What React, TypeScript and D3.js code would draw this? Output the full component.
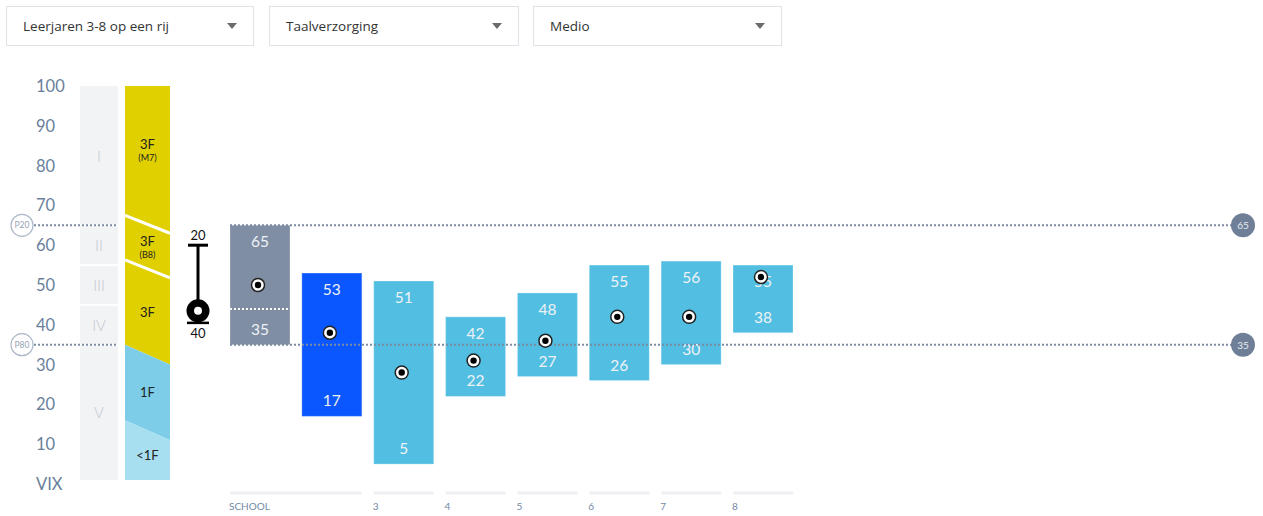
import React from "react";
import * as d3 from "d3";

const dropdownLabels = ["Leerjaren 3-8 op een rij", "Taalverzorging", "Medio"];
const yTicks = [100, 90, 80, 70, 60, 50, 40, 30, 20, 10];
const yBottomLabel = "VIX";
const levelNames = ["I", "II", "III", "IV", "V"];
const levelBounds = [100, 65, 55, 45, 35, 1];
const fLabels = ["3F", "3F", "3F", "1F", "<1F"];
const fSubLabels = ["(M7)", "(B8)", "", "", ""];
const fCutsLeft = [67.5, 56.3, 35, 16];
const fCutsRight = [63, 51.8, 30, 11];
const fColors = ["#e0d000", "#e0d000", "#e0d000", "#7dcde9", "#a7dff0"];
const barKeys = ["SCHOOL", "SCHOOL-leerjaar", "3", "4", "5", "6", "7", "8"];
const barHigh = [65, 53, 51, 42, 48, 55, 56, 55];
const barLow = [35, 17, 5, 22, 27, 26, 30, 38];
const barScore = [50, 38, 28, 31, 36, 42, 42, 52];
const barColors = ["#7f8ea3", "#0b57ff", "#52bfe2", "#52bfe2", "#52bfe2", "#52bfe2", "#52bfe2", "#52bfe2"];
const schoolMid = 44;
const groupLabels = ["SCHOOL", "3", "4", "5", "6", "7", "8"];
const groupFirst = ["SCHOOL", "3", "4", "5", "6", "7", "8"];
const groupLast = ["SCHOOL-leerjaar", "3", "4", "5", "6", "7", "8"];
const percentileNames = ["P20", "P80"];
const percentileValues = [65, 35];
const errLabels = ["20", "40"];
const errTop = 60;
const errMid = 43.5;

const FONT = "Lato, 'Open Sans', sans-serif";
const DFONT = "'Open Sans', Lato, sans-serif";

export default function App() {
  const W = 1263, H = 516;
  const y = d3.scaleLinear().domain([0, 100]).range([484, 86]);
  const x = d3.scaleBand<string>().domain(barKeys).range([230, 793]).paddingInner(0.165).paddingOuter(0);
  const bw = x.bandwidth();
  const lvlX0 = 80, lvlX1 = 118;
  const fX0 = 125, fX1 = 170;
  const fMid = (fX0 + fX1) / 2;
  const errX = 198;
  const dotColor = "#7b8ba3";

  const cutsL = [100, ...fCutsLeft, 1];
  const cutsR = [100, ...fCutsRight, 1];
  const line = d3.line<[number, number]>();

  const dropX = [6, 269, 533];
  const dropW = [247, 249, 248];

  return (
    <svg width={W} height={H} style={{ position: "absolute", left: 0, top: 0, fontFamily: FONT, fontWeight: 400 }}>
      <rect width={W} height={H} fill="#fff" />
      {dropdownLabels.map((t, i) => (
        <g key={t} transform={`translate(${dropX[i]},6)`}>
          <rect x={0.5} y={0.5} width={dropW[i]} height={39} fill="#fff" stroke="#dfe3e8" />
          <text x={17} y={20} dominantBaseline="central" fontSize={13.5} fill="#333" fontFamily={DFONT}>{t}</text>
          <path d={`M${dropW[i] - 26},${17} l10,0 l-5,6 z`} fill="#6b6b6b" />
        </g>
      ))}

      {yTicks.map((t) => (
        <text key={t} x={36} y={y(t)} dominantBaseline="central" fontSize={16.5} fill="#6a7f9b">{t}</text>
      ))}
      <text x={36} y={y(0)} dominantBaseline="central" fontSize={16.5} fill="#6a7f9b">{yBottomLabel}</text>

      {levelNames.map((n, i) => {
        const top = y(levelBounds[i]);
        const bot = y(levelBounds[i + 1]);
        return (
          <g key={n}>
            <rect x={lvlX0} y={top + (i === 0 ? 0 : 1)} width={lvlX1 - lvlX0} height={bot - top - (i === 0 ? 1 : 2) + (i === levelNames.length - 1 ? 1 : 0)} fill="#f2f3f5" />
            <text x={(lvlX0 + lvlX1) / 2} y={(top + bot) / 2} textAnchor="middle" dominantBaseline="central" fontSize={15} fontWeight={300} fill="#c3c8cf">{n}</text>
          </g>
        );
      })}

      {fLabels.map((l, i) => {
        const pts: [number, number][] = [
          [fX0, y(cutsL[i])], [fX1, y(cutsR[i])], [fX1, y(cutsR[i + 1])], [fX0, y(cutsL[i + 1])],
        ];
        const midV = (cutsL[i] + cutsR[i] + cutsL[i + 1] + cutsR[i + 1]) / 4;
        const cy = y(midV) - (i === 0 ? 5 : 0);
        return (
          <g key={i}>
            <path d={line(pts) + "Z"} fill={fColors[i]} />
            {fSubLabels[i] ? (
              <>
                <text x={fMid} y={cy - 6} textAnchor="middle" dominantBaseline="central" fontSize={13} fill="#222">{l}</text>
                <text x={fMid} y={cy + 7.5} textAnchor="middle" dominantBaseline="central" fontSize={9} fill="#222">{fSubLabels[i]}</text>
              </>
            ) : (
              <text x={fMid} y={cy} textAnchor="middle" dominantBaseline="central" fontSize={13} fill="#222">{l}</text>
            )}
          </g>
        );
      })}
      {fCutsLeft.slice(0, 2).map((v, i) => (
        <line key={i} x1={fX0} y1={y(v)} x2={fX1} y2={y(fCutsRight[i])} stroke="#fff" strokeWidth={3} />
      ))}

      <text x={errX} y={y(errTop) - 10} textAnchor="middle" dominantBaseline="central" fontSize={13} fill="#111">{errLabels[0]}</text>
      <line x1={errX - 10} x2={errX + 10} y1={y(errTop)} y2={y(errTop)} stroke="#000" strokeWidth={3} />
      <line x1={errX} x2={errX} y1={y(errTop)} y2={y(errMid)} stroke="#000" strokeWidth={3} />
      <circle cx={errX} cy={y(errMid)} r={11.5} fill="#000" />
      <circle cx={errX} cy={y(errMid)} r={4} fill="#fff" />
      <line x1={errX - 11} x2={errX + 11} y1={y(errMid) + 12} y2={y(errMid) + 12} stroke="#000" strokeWidth={2.5} />
      <text x={errX} y={y(errMid) + 22} textAnchor="middle" dominantBaseline="central" fontSize={13} fill="#111">{errLabels[1]}</text>

      {barKeys.map((k, i) => (
        <rect key={k} x={x(k)} y={y(barHigh[i])} width={bw} height={y(barLow[i]) - y(barHigh[i])} fill={barColors[i]} stroke="rgba(255,255,255,0.25)" strokeWidth={1} />
      ))}
      <line x1={x(barKeys[0])} x2={(x(barKeys[0]) ?? 0) + bw} y1={y(schoolMid)} y2={y(schoolMid)} stroke="#fff" strokeWidth={2} strokeDasharray="2,2" />

      {barKeys.map((k, i) => (
        <g key={k}>
          <text x={(x(k) ?? 0) + bw / 2} y={y(barHigh[i]) + 16} textAnchor="middle" dominantBaseline="central" fontSize={15.5} fill="#eef2f6">{barHigh[i]}</text>
          <text x={(x(k) ?? 0) + bw / 2} y={y(barLow[i]) - 16} textAnchor="middle" dominantBaseline="central" fontSize={15.5} fill="#eef2f6">{barLow[i]}</text>
        </g>
      ))}

      {percentileValues.map((v, i) => (
        <g key={v}>
          <line x1={34} x2={lvlX1} y1={y(v)} y2={y(v)} stroke={dotColor} strokeWidth={2} strokeDasharray="2,2" />
          <line x1={x(barKeys[0])} x2={1232} y1={y(v)} y2={y(v)} stroke={dotColor} strokeWidth={2} strokeDasharray="2,2" />
          <circle cx={22} cy={y(v)} r={11} fill="#fff" stroke="#aeb9c8" strokeWidth={1.2} />
          <text x={22} y={y(v)} textAnchor="middle" dominantBaseline="central" fontSize={8.5} fill="#97a5b8">{percentileNames[i]}</text>
          <circle cx={1243} cy={y(v)} r={12} fill="#6f7f98" />
          <text x={1243} y={y(v)} textAnchor="middle" dominantBaseline="central" fontSize={10} fill="#e8ecf1">{v}</text>
        </g>
      ))}

      {barKeys.map((k, i) => (
        <g key={k}>
          <circle cx={(x(k) ?? 0) + bw / 2 - 2} cy={y(barScore[i])} r={6.5} fill="#fff" stroke="#222" strokeWidth={1.5} />
          <circle cx={(x(k) ?? 0) + bw / 2 - 2} cy={y(barScore[i])} r={3.2} fill="#000" />
        </g>
      ))}

      {groupLabels.map((g, i) => {
        const gx0 = x(groupFirst[i]) ?? 0;
        const gx1 = (x(groupLast[i]) ?? 0) + bw;
        return (
          <g key={g}>
            <line x1={gx0} x2={gx1} y1={493} y2={493} stroke="#eef0f3" strokeWidth={3} />
            <text x={gx0 - 1} y={506} dominantBaseline="central" fontSize={10} fill="#7389a5">{g}</text>
          </g>
        );
      })}
    </svg>
  );
}
